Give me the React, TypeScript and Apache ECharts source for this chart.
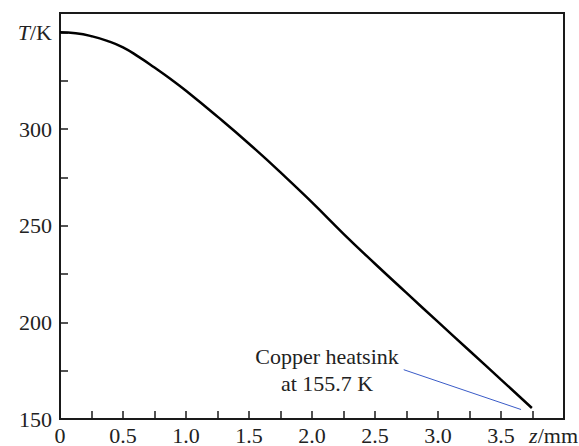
import React, { useEffect, useRef } from "react";
import * as echarts from "echarts";

const zValues = [0, 0.125, 0.25, 0.375, 0.5, 0.625, 0.75, 0.875, 1.0, 1.25, 1.5, 1.75, 2.0, 2.25, 2.5, 2.75, 3.0, 3.25, 3.5, 3.745];
const tValues = [350, 349.5, 348.0, 345.6, 342.2, 337.3, 331.8, 326.0, 319.8, 306.4, 292.4, 277.6, 262.0, 245.8, 230.3, 215.2, 200.2, 185.3, 170.4, 155.7];

const leaderZ = [2.728, 3.659];
const leaderT = [175.5, 154.9];

const annotationLines = ["Copper heatsink", "at 155.7 K"];
const yAxisName = "T";
const yAxisUnit = "/K";
const xAxisName = "z";
const xAxisUnit = "/mm";

const FONT = "Liberation Serif, DejaVu Serif, serif";
const FS = 22;

export default function App() {
  const ref = useRef<HTMLDivElement>(null);
  useEffect(() => {
    if (!ref.current) return;
    const chart = echarts.init(ref.current, null, { renderer: "svg" });
    const curve = zValues.map((z, i) => [z, tValues[i]]);
    const leader = leaderZ.map((z, i) => [z, leaderT[i]]);
    chart.setOption({
      animation: false,
      backgroundColor: "#fff",
      textStyle: { fontFamily: FONT },
      grid: {
        left: 60,
        right: 15,
        top: 13,
        bottom: 26,
        show: true,
        borderColor: "#1a1a1a",
        borderWidth: 2,
        containLabel: false,
      },
      xAxis: {
        type: "value",
        min: 0,
        max: 4,
        interval: 0.25,
        splitLine: { show: false },
        axisLine: { show: true, lineStyle: { color: "#1a1a1a", width: 2 } },
        axisTick: { show: true, inside: true, length: 8, lineStyle: { color: "#1a1a1a", width: 1.5 } },
        axisLabel: {
          interval: 0,
          margin: 5,
          color: "#222",
          fontFamily: FONT,
          fontSize: FS,
          formatter: (v: number) => {
            if (v >= 4) return "";
            if (Math.abs(v * 2 - Math.round(v * 2)) > 1e-6) return "";
            return v === 0 ? "0" : v.toFixed(1);
          },
        },
      },
      yAxis: {
        type: "value",
        min: 150,
        max: 360,
        interval: 25,
        splitLine: { show: false },
        axisLine: { show: true, lineStyle: { color: "#1a1a1a", width: 2 } },
        axisTick: { show: true, inside: true, length: 8, lineStyle: { color: "#1a1a1a", width: 1.5 } },
        axisLabel: {
          interval: 0,
          margin: 8,
          color: "#222",
          fontFamily: FONT,
          fontSize: FS,
          showMaxLabel: false,
          formatter: (v: number) => {
            if (v === 350) return "{i|" + yAxisName + "}" + yAxisUnit;
            if (v % 50 === 0 && v <= 300) return String(v);
            return "";
          },
          rich: {
            i: { fontStyle: "italic", fontFamily: FONT, fontSize: FS, color: "#222" },
          },
        },
      },
      graphic: [
        {
          type: "text",
          x: 578,
          y: 435,
          style: {
            text: "{i|" + xAxisName + "}" + xAxisUnit,
            fontFamily: FONT,
            fontSize: FS,
            fill: "#222",
            align: "right",
            verticalAlign: "middle",
            rich: { i: { fontStyle: "italic", fontFamily: FONT, fontSize: FS, fill: "#222" } },
          },
        },
        {
          type: "text",
          x: 327,
          y: 370,
          style: {
            text: annotationLines.join("\n"),
            fontFamily: FONT,
            fontSize: FS,
            lineHeight: 26.5,
            fill: "#222",
            align: "center",
            verticalAlign: "middle",
          },
        },
      ],
      series: [
        {
          type: "line",
          data: curve,
          smooth: 0.5,
          showSymbol: false,
          lineStyle: { color: "#000", width: 2.5 },
          z: 3,
        },
        {
          type: "line",
          data: leader,
          showSymbol: false,
          lineStyle: { color: "#3a5bc7", width: 1 },
          z: 2,
        },
      ],
    });
    return () => chart.dispose();
  }, []);
  return <div ref={ref} style={{ width: 579, height: 446, position: "absolute", left: 0, top: 0 }} />;
}
